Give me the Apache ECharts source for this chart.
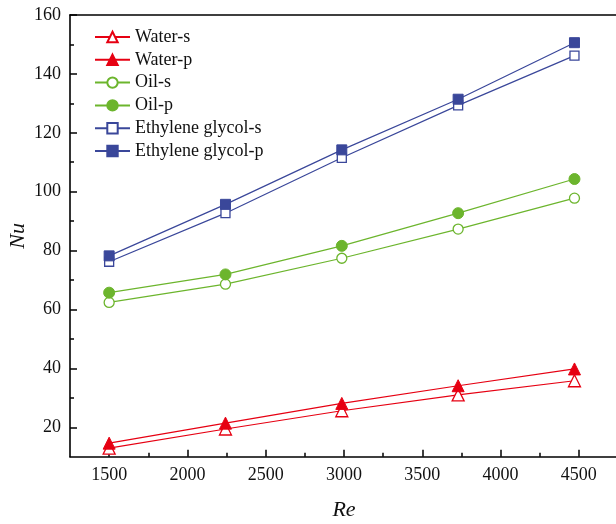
<!DOCTYPE html>
<html>
<head>
<meta charset="utf-8">
<script src="https://cdn.jsdelivr.net/npm/echarts@6/dist/echarts.min.js"></script>
<style>
html,body{margin:0;padding:0;background:#fff;}
#chart{width:616px;height:524px;}
</style>
</head>
<body>
<div id="chart"></div>
<script>
const reValues = [1500, 2243, 2986, 3729, 4472];
const waterS = [12.9, 19.4, 25.6, 31.0, 35.8];
const waterP = [14.6, 21.4, 28.1, 34.1, 39.8];
const oilS = [62.4, 68.6, 77.4, 87.3, 97.8];
const oilP = [65.7, 71.9, 81.6, 92.7, 104.3];
const egS = [76.2, 92.7, 111.5, 129.3, 146.2];
const egP = [78.2, 95.7, 114.2, 131.4, 150.6];
const xMajorTicks = [1500, 2000, 2500, 3000, 3500, 4000, 4500];
const xMinorTicks = [1750, 2250, 2750, 3250, 3750, 4250];
const yMajorTicks = [20, 40, 60, 80, 100, 120, 140, 160];
const yMinorTicks = [30, 50, 70, 90, 110, 130, 150];

const RED = '#e60012', GREEN = '#6cb52d', BLUE = '#3a479a';
const FONT = 'Liberation Serif';

function pairs(ys) { return reValues.map((x, i) => [x, ys[i]]); }

function mk(name, ys, color, symbol, size, filled) {
  return {
    name: name, type: 'line', data: pairs(ys),
    xAxisIndex: 0, yAxisIndex: 0,
    symbol: symbol, symbolSize: size,
    showAllSymbol: true,
    lineStyle: { color: color, width: 1.2 },
    itemStyle: filled ? { color: color, borderColor: color, borderWidth: 1 }
                      : { color: '#fff', borderColor: color, borderWidth: 1.3 },
    emphasis: { disabled: true },
    animation: false,
    z: filled ? 3 : 2
  };
}

const chart = echarts.init(document.getElementById('chart'), null, { renderer: 'canvas' });
const XMIN = 1250, XMAX = 4750, YMIN = 10, YMAX = 160;
const axisLineStyle = { color: '#000', width: 1.6 };
const plain = v => String(v);

chart.setOption({
  animation: false,
  backgroundColor: '#fff',
  grid: { left: 70, right: -2, top: 15, bottom: 67.3, containLabel: false, outerBoundsMode: 'none' },
  legend: {
    orient: 'vertical', left: 94, top: 28, padding: 0,
    itemWidth: 35, itemHeight: 13, itemGap: 4.8,
    textStyle: { fontFamily: FONT, fontSize: 18, color: '#111' },
    data: ['Water-s', 'Water-p', 'Oil-s', 'Oil-p', 'Ethylene glycol-s', 'Ethylene glycol-p']
  },
  xAxis: [
    {
      type: 'value', position: 'bottom', min: XMIN, max: XMAX,
      name: 'Re', nameLocation: 'middle', nameGap: 43,
      nameTextStyle: { fontFamily: FONT, fontSize: 22, fontStyle: 'italic', color: '#111' },
      axisLine: { show: true, onZero: false, lineStyle: axisLineStyle },
      axisTick: { show: true, inside: true, length: 7, customValues: xMajorTicks, lineStyle: { color: '#000', width: 1.5 } },
      axisLabel: { show: true, margin: 10, customValues: xMajorTicks, formatter: plain, fontFamily: FONT, fontSize: 18, color: '#111' },
      splitLine: { show: false }
    },
    {
      type: 'value', position: 'bottom', min: XMIN, max: XMAX,
      axisLine: { show: false, onZero: false },
      axisTick: { show: true, inside: true, length: 4, customValues: xMinorTicks, lineStyle: { color: '#000', width: 1.5 } },
      axisLabel: { show: false },
      splitLine: { show: false }
    },
    {
      type: 'value', position: 'top', min: XMIN, max: XMAX,
      axisLine: { show: true, onZero: false, lineStyle: axisLineStyle },
      axisTick: { show: false }, axisLabel: { show: false }, splitLine: { show: false }
    }
  ],
  yAxis: [
    {
      type: 'value', position: 'left', min: YMIN, max: YMAX,
      name: 'Nu', nameLocation: 'middle', nameGap: 41, nameRotate: 90, nameMoveOverlap: false,
      nameTextStyle: { fontFamily: FONT, fontSize: 22, fontStyle: 'italic', color: '#111' },
      axisLine: { show: true, onZero: false, lineStyle: axisLineStyle },
      axisTick: { show: true, inside: true, length: 7, customValues: yMajorTicks, lineStyle: { color: '#000', width: 1.5 } },
      axisLabel: { show: true, margin: 9, customValues: yMajorTicks, formatter: plain, fontFamily: FONT, fontSize: 18, color: '#111' },
      splitLine: { show: false }
    },
    {
      type: 'value', position: 'left', min: YMIN, max: YMAX,
      axisLine: { show: false, onZero: false },
      axisTick: { show: true, inside: true, length: 4, customValues: yMinorTicks, lineStyle: { color: '#000', width: 1.5 } },
      axisLabel: { show: false },
      splitLine: { show: false }
    },
    {
      type: 'value', position: 'right', min: YMIN, max: YMAX,
      axisLine: { show: true, onZero: false, lineStyle: axisLineStyle },
      axisTick: { show: false }, axisLabel: { show: false }, splitLine: { show: false }
    }
  ],
  series: [
    mk('Water-s', waterS, RED, 'triangle', 12, false),
    mk('Water-p', waterP, RED, 'triangle', 12, true),
    mk('Oil-s', oilS, GREEN, 'circle', 10, false),
    mk('Oil-p', oilP, GREEN, 'circle', 11, true),
    mk('Ethylene glycol-s', egS, BLUE, 'rect', 9, false),
    mk('Ethylene glycol-p', egP, BLUE, 'rect', 10, true)
  ]
});
</script>
</body>
</html>
